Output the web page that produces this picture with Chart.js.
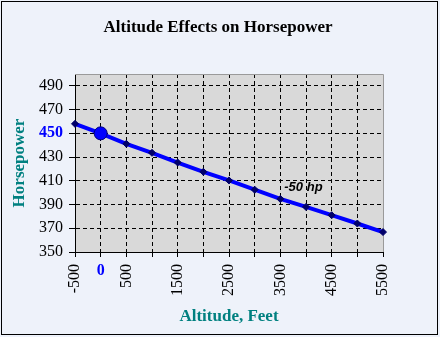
<!DOCTYPE html>
<html>
<head>
<meta charset="utf-8">
<script src="https://cdn.jsdelivr.net/npm/chart.js@4/dist/chart.umd.min.js"></script>
<style>
  body { margin: 0; background: #eef2fa; }
  canvas { display: block; }
</style>
</head>
<body>
<canvas id="hpChart" width="440" height="337"></canvas>
<script>
// altitude (ft) vs. engine horsepower
var altitudes = [-500, 0, 500, 1000, 1500, 2000, 2500, 3000, 3500, 4000, 4500, 5000, 5500];
var horsepower = [458, 450, 441.2, 433.6, 425.4, 417.6, 410.3, 402.5, 394.7, 388, 381, 374, 366.8];

// sea level reference point
var seaLevelAlt = [0];
var seaLevelHp = [450];

var xTicks = [-500, 0, 500, 1000, 1500, 2000, 2500, 3000, 3500, 4000, 4500, 5000, 5500];
var xLabels = [-500, 500, 1500, 2500, 3500, 4500, 5500];
var yTicks = [350, 370, 390, 410, 430, 450, 470, 490];

var titleText = 'Altitude Effects on Horsepower';
var noteText = '-50 hp';
var noteAt = [3950, 404];

var SERIF = '"Liberation Serif", "Times New Roman", serif';
var TEAL = '#008080';
var BLUE = '#0000ff';

var frame = {
  id: 'frame',
  beforeDraw: function(chart) {
    var ctx = chart.ctx, a = chart.chartArea;
    ctx.save();
    ctx.fillStyle = '#eef2fa';
    ctx.fillRect(0, 0, chart.width, chart.height);
    ctx.fillStyle = '#d9d9d9';
    ctx.fillRect(a.left, a.top, a.right - a.left, a.bottom - a.top);
    ctx.strokeStyle = '#000';
    ctx.lineWidth = 1;
    ctx.strokeRect(1.5, 1.5, chart.width - 4, chart.height - 4);
    ctx.restore();
  },
  beforeDatasetsDraw: function(chart) {
    var ctx = chart.ctx, a = chart.chartArea;
    ctx.save();
    ctx.strokeStyle = '#9a9a9a';
    ctx.lineWidth = 1;
    ctx.beginPath();
    ctx.moveTo(a.left, Math.round(a.top) + 0.5);
    ctx.lineTo(Math.round(a.right) + 0.5, Math.round(a.top) + 0.5);
    ctx.lineTo(Math.round(a.right) + 0.5, a.bottom);
    ctx.stroke();
    ctx.restore();
  },
  afterDraw: function(chart) {
    var ctx = chart.ctx, xs = chart.scales.x, ys = chart.scales.y;
    ctx.save();
    ctx.textAlign = 'center';
    ctx.textBaseline = 'middle';
    // chart title, centred on the whole canvas
    ctx.fillStyle = '#000';
    ctx.font = 'bold 17px ' + SERIF;
    ctx.fillText(titleText, 218, 28);
    // upright "0" under the sea level point
    ctx.fillStyle = BLUE;
    ctx.font = 'bold 16px ' + SERIF;
    ctx.fillText('0', xs.getPixelForValue(seaLevelAlt[0]), 271);
    // loss note
    ctx.fillStyle = '#000';
    ctx.font = 'italic bold 13px "Liberation Sans", Arial, sans-serif';
    ctx.fillText(noteText, xs.getPixelForValue(noteAt[0]), ys.getPixelForValue(noteAt[1]));
    ctx.restore();
  }
};

new Chart(document.getElementById('hpChart'), {
  type: 'scatter',
  data: {
    datasets: [{
      data: altitudes.map(function(a, i) { return {x: a, y: horsepower[i]}; }),
      showLine: true,
      borderColor: BLUE,
      borderWidth: 4,
      pointStyle: 'rectRot',
      pointRadius: 3.5,
      pointBackgroundColor: '#00006a',
      pointBorderColor: '#00006a',
      pointBorderWidth: 1,
      clip: false,
      order: 2
    }, {
      data: seaLevelAlt.map(function(a, i) { return {x: a, y: seaLevelHp[i]}; }),
      pointRadius: 6.5,
      pointBackgroundColor: BLUE,
      pointBorderColor: '#000080',
      pointBorderWidth: 1,
      clip: false,
      order: 1
    }]
  },
  options: {
    responsive: false,
    animation: false,
    layout: { padding: { top: 74, right: 57, bottom: 0, left: 0 } },
    plugins: {
      legend: { display: false },
      tooltip: { enabled: false },
      title: { display: false }
    },
    scales: {
      x: {
        type: 'linear',
        min: -500,
        max: 5500,
        afterBuildTicks: function(s) { s.ticks = xTicks.map(function(v) { return {value: v}; }); },
        afterFit: function(s) { s.height = 85; },
        grid: {
          color: function(c) { return c.tick && c.tick.value === 5500 ? 'rgba(0,0,0,0)' : '#000'; },
          lineWidth: 1,
          tickLength: 5,
          tickColor: '#000'
        },
        border: { display: true, color: '#000', width: 1, dash: [4, 3] },
        ticks: {
          autoSkip: false,
          maxRotation: 90,
          minRotation: 90,
          padding: 7,
          color: '#000',
          font: { family: SERIF, size: 16 },
          callback: function(v) { return xLabels.indexOf(v) >= 0 ? String(v) : ''; }
        },
        title: {
          display: true,
          text: 'Altitude, Feet',
          color: TEAL,
          font: { family: SERIF, size: 17, weight: 'bold' },
          padding: { top: 0, bottom: 10 }
        }
      },
      y: {
        min: 350,
        max: 500,
        afterBuildTicks: function(s) { s.ticks = yTicks.map(function(v) { return {value: v}; }); },
        afterFit: function(s) { s.width = 75; },
        grid: {
          color: '#000',
          lineWidth: 1,
          tickLength: 6,
          tickColor: '#000'
        },
        border: { display: true, color: '#000', width: 1, dash: [4, 3] },
        ticks: {
          padding: 6,
          color: function(c) { return c.tick && c.tick.value === 450 ? BLUE : '#000'; },
          font: function(c) {
            return c.tick && c.tick.value === 450
              ? { family: SERIF, size: 16, weight: 'bold' }
              : { family: SERIF, size: 16 };
          }
        },
        title: {
          display: true,
          text: 'Horsepower',
          color: TEAL,
          font: { family: SERIF, size: 17, weight: 'bold' },
          padding: { top: 9, bottom: 0 }
        }
      }
    }
  },
  plugins: [frame]
});
</script>
</body>
</html>
